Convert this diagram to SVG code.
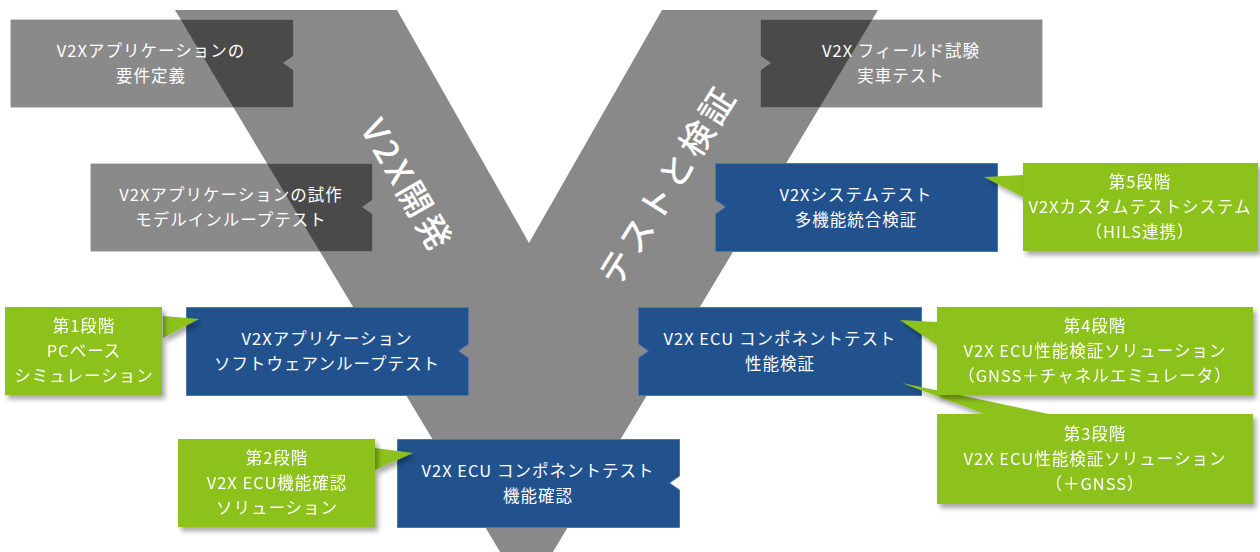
<svg xmlns="http://www.w3.org/2000/svg" width="1260" height="552" viewBox="0 0 1260 552">
<defs>
<filter id="sh" x="-10%" y="-10%" width="130%" height="140%">
<feDropShadow dx="3" dy="4" stdDeviation="2.5" flood-color="#000" flood-opacity="0.35"/>
</filter>
<style>
text{font-family:"Noto Sans CJK JP","Noto Sans",sans-serif;fill:#fff;text-anchor:middle;font-size:16.5px;letter-spacing:1px;}
.big{font-size:34px;letter-spacing:4px;font-weight:500;dominant-baseline:central;}
.gray{fill:#000;fill-opacity:0.46;stroke:#fff;stroke-opacity:0.15;stroke-width:1;}
.blue{fill:#21528E;stroke:#4d76ac;stroke-width:1;}
.green{fill:#8DC21F;}
.tail{fill:#8DC21F;}
</style>
</defs>
<rect width="1260" height="552" fill="#fff"/>
<g id="v-shape">
<polygon points="175,10 397,10 529,243 662,10 878,10 526.5,596" fill="#898989"/>
<text class="big" transform="translate(409,185) rotate(60)">V2X開発</text>
<text class="big" transform="translate(666,184) rotate(-58)">テストと検証</text>
</g>
<g id="n-req">
<path class="gray" d="M10.5,19.5 H293.5 V56 L283.5,63 L293.5,70 V107.5 H10.5 Z"/>
<text x="151" y="57">V2Xアプリケーションの</text>
<text x="151" y="82">要件定義</text>
</g>
<g id="n-mil">
<path class="gray" d="M90.5,163.5 H372.5 V200 L362.5,207 L372.5,214 V251.5 H90.5 Z"/>
<text x="231" y="201">V2Xアプリケーションの試作</text>
<text x="231" y="226">モデルインループテスト</text>
</g>
<g id="n-field">
<path class="gray" d="M760.5,19.5 H1042.5 V107.5 H760.5 V70 L770.5,63 L760.5,56 Z"/>
<text x="901" y="57">V2X フィールド試験</text>
<text x="901" y="82">実車テスト</text>
</g>
<g id="n-system">
<path class="blue" d="M715.5,163.5 H997.5 V251.5 H715.5 V214 L725.5,207 L715.5,200 Z"/>
<text x="856" y="201">V2Xシステムテスト</text>
<text x="856" y="226">多機能統合検証</text>
</g>
<g id="n-sil">
<path class="blue" d="M186.5,307.5 H468.5 V344 L458.5,351 L468.5,358 V395.5 H186.5 Z"/>
<text x="327" y="345">V2Xアプリケーション</text>
<text x="327" y="370">ソフトウェアンループテスト</text>
</g>
<g id="n-ecu-perf">
<path class="blue" d="M638.5,307.5 H921.5 V395.5 H638.5 V358 L648.5,351 L638.5,344 Z"/>
<text x="780" y="345">V2X ECU コンポネントテスト</text>
<text x="780" y="370">性能検証</text>
</g>
<g id="n-ecu-func">
<path class="blue" d="M397.5,439.5 H679.5 V476 L669.5,483 L679.5,490 V527.5 H397.5 Z"/>
<text x="538" y="477">V2X ECU コンポネントテスト</text>
<text x="538" y="502">機能確認</text>
</g>
<g id="connectors" filter="url(#sh)">
<polygon class="tail" points="163,316 199,319 163,338"/>
<polygon class="tail" points="375,448 413,453 375,470"/>
<polygon class="tail" points="1023,175 984,177 1023,197"/>
<polygon class="tail" points="937,322 900,320 937,345"/>
<polygon class="tail" points="902,383 1053,415 987,415"/>
</g>
<g id="n-stage1" filter="url(#sh)">
<rect class="green" x="5" y="307" width="157" height="88"/>
<text x="84" y="332">第1段階</text>
<text x="84" y="357">PCベース</text>
<text x="84" y="382">シミュレーション</text>
</g>
<g id="n-stage2" filter="url(#sh)">
<rect class="green" x="178" y="439" width="197" height="88"/>
<text x="277" y="464">第2段階</text>
<text x="277" y="489">V2X ECU機能確認</text>
<text x="277" y="514">ソリューション</text>
</g>
<g id="n-stage5" filter="url(#sh)">
<rect class="green" x="1023" y="163" width="235" height="88"/>
<text x="1140" y="188">第5段階</text>
<text x="1140" y="213">V2Xカスタムテストシステム</text>
<text x="1140" y="238">（HILS連携）</text>
</g>
<g id="n-stage4" filter="url(#sh)">
<rect class="green" x="937" y="307" width="316" height="88"/>
<text x="1095" y="332">第4段階</text>
<text x="1095" y="357">V2X ECU性能検証ソリューション</text>
<text x="1095" y="382">（GNSS＋チャネルエミュレータ）</text>
</g>
<g id="n-stage3" filter="url(#sh)">
<rect class="green" x="937" y="414" width="316" height="90"/>
<text x="1095" y="440">第3段階</text>
<text x="1095" y="465">V2X ECU性能検証ソリューション</text>
<text x="1095" y="490">（＋GNSS）</text>
</g>
</svg>
